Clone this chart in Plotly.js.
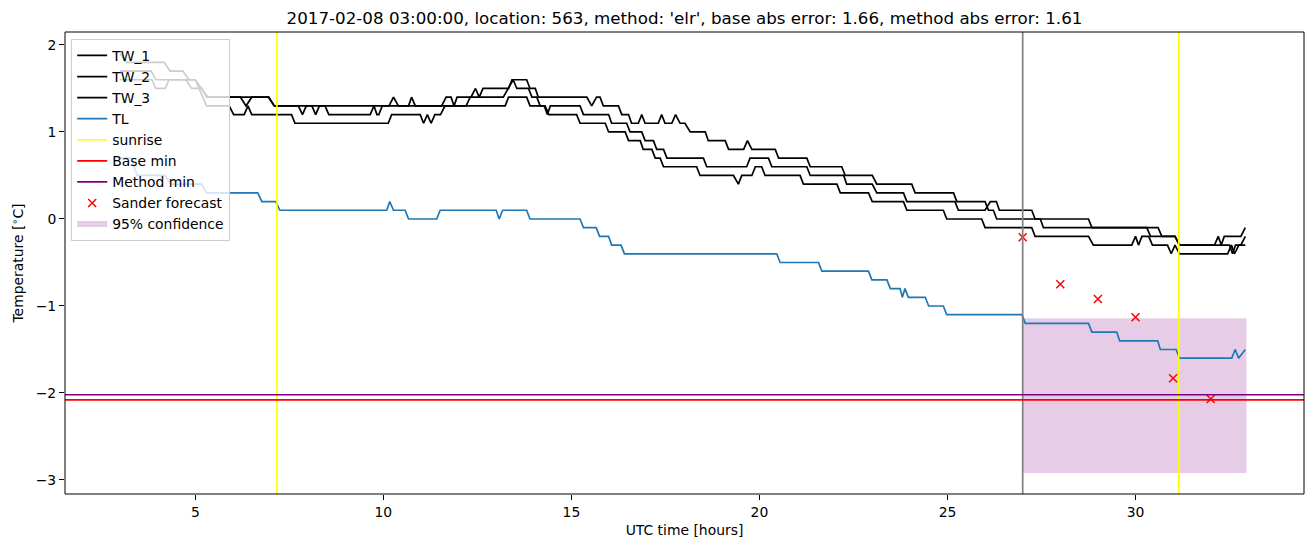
<!DOCTYPE html>
<html>
<head>
<meta charset="utf-8">
<script src="https://cdn.plot.ly/plotly-3.0.1.min.js"></script>
<style>html,body{margin:0;padding:0;background:#fff;}#chart{width:1313px;height:547px;}</style>
</head>
<body>
<div id="chart"></div>
<script>
// ---- data (hours UTC since 2017-02-08 00:00, temperature in °C) ----
const tw1 = [[3.0,1.9],[3.17,1.8],[4.17,1.8],[4.33,1.7],[4.67,1.7],[4.83,1.6],[5.0,1.6],[5.17,1.5],[5.33,1.4],[6.2,1.4],[6.35,1.3],[6.5,1.4],[6.95,1.4],[7.1,1.3],[10.15,1.3],[10.27,1.4],[10.4,1.3],[10.67,1.3],[10.75,1.4],[10.85,1.3],[11.55,1.3],[11.67,1.4],[11.8,1.4],[11.88,1.3],[11.96,1.4],[12.33,1.4],[12.45,1.5],[12.55,1.4],[12.65,1.5],[13.33,1.5],[13.42,1.6],[13.81,1.6],[13.9,1.5],[14.04,1.5],[14.12,1.4],[15.41,1.4],[15.54,1.3],[15.67,1.4],[15.76,1.4],[15.85,1.3],[16.25,1.3],[16.34,1.2],[16.52,1.2],[16.6,1.1],[16.78,1.1],[16.87,1.2],[16.96,1.1],[17.31,1.1],[17.4,1.2],[17.49,1.1],[17.67,1.1],[17.77,1.2],[17.89,1.1],[18.02,1.1],[18.16,1.0],[18.56,1.0],[18.64,0.9],[19.09,0.9],[19.18,0.8],[19.58,0.8],[19.68,0.9],[19.8,0.8],[20.42,0.8],[20.51,0.7],[21.26,0.7],[21.35,0.6],[22.19,0.6],[22.28,0.5],[23.0,0.5],[23.12,0.4],[24.05,0.4],[24.14,0.3],[25.16,0.3],[25.25,0.2],[26.0,0.2],[26.09,0.1],[26.22,0.1],[26.31,0.0],[27.47,0.0],[27.55,-0.1],[30.6,-0.1],[30.7,-0.2],[31.05,-0.2],[31.17,-0.3],[32.1,-0.3],[32.2,-0.2],[32.28,-0.3],[32.36,-0.2],[32.8,-0.2],[32.92,-0.1]];
const tw2 = [[3.0,1.7],[3.83,1.7],[3.95,1.6],[4.75,1.6],[4.9,1.5],[5.17,1.5],[5.3,1.4],[6.95,1.4],[7.1,1.3],[7.74,1.3],[7.85,1.2],[7.95,1.3],[8.1,1.3],[8.2,1.2],[8.3,1.3],[8.45,1.3],[8.55,1.2],[9.65,1.2],[9.75,1.3],[9.83,1.2],[9.88,1.2],[9.97,1.3],[12.2,1.3],[12.31,1.4],[13.19,1.4],[13.33,1.5],[13.45,1.6],[13.55,1.5],[13.86,1.5],[13.95,1.4],[14.08,1.4],[14.17,1.3],[14.28,1.3],[14.36,1.2],[14.44,1.3],[15.23,1.3],[15.32,1.2],[15.99,1.2],[16.07,1.1],[16.47,1.1],[16.56,1.0],[16.87,1.0],[16.96,0.9],[17.18,0.9],[17.27,0.8],[17.45,0.8],[17.54,0.7],[18.51,0.7],[18.6,0.6],[19.66,0.6],[19.75,0.7],[20.24,0.7],[20.33,0.6],[21.26,0.6],[21.35,0.5],[22.24,0.5],[22.32,0.4],[23.0,0.4],[23.12,0.3],[23.83,0.3],[23.92,0.2],[25.2,0.2],[25.29,0.1],[26.0,0.1],[26.14,0.2],[26.3,0.2],[26.38,0.1],[27.24,0.1],[27.33,0.0],[28.75,0.0],[28.84,-0.1],[30.3,-0.1],[30.4,-0.2],[31.05,-0.2],[31.17,-0.3],[32.5,-0.3],[32.58,-0.4],[32.66,-0.3],[32.8,-0.3],[32.92,-0.2]];
const tw3 = [[3.0,1.6],[3.85,1.6],[3.95,1.5],[4.2,1.5],[4.3,1.6],[5.0,1.6],[5.1,1.5],[5.2,1.4],[5.3,1.3],[5.9,1.3],[6.02,1.2],[6.3,1.2],[6.4,1.3],[6.5,1.2],[7.56,1.2],[7.65,1.1],[10.13,1.1],[10.22,1.2],[10.98,1.2],[11.07,1.1],[11.17,1.2],[11.27,1.1],[11.37,1.2],[11.52,1.2],[11.64,1.3],[13.24,1.3],[13.33,1.4],[13.81,1.4],[13.9,1.3],[14.3,1.3],[14.4,1.2],[15.14,1.2],[15.23,1.1],[15.9,1.1],[15.99,1.0],[16.43,1.0],[16.52,0.9],[16.83,0.9],[16.91,0.8],[17.14,0.8],[17.23,0.7],[17.36,0.7],[17.45,0.6],[18.33,0.6],[18.42,0.5],[19.31,0.5],[19.44,0.4],[19.53,0.5],[19.8,0.5],[19.89,0.6],[20.06,0.6],[20.15,0.5],[21.08,0.5],[21.17,0.4],[22.06,0.4],[22.15,0.3],[22.9,0.3],[23.0,0.2],[23.83,0.2],[23.92,0.1],[24.89,0.1],[24.98,0.0],[25.91,0.0],[26.0,-0.1],[27.24,-0.1],[27.33,-0.2],[28.75,-0.2],[28.88,-0.3],[29.9,-0.3],[30.0,-0.2],[30.08,-0.3],[30.17,-0.2],[30.35,-0.2],[30.45,-0.3],[30.85,-0.3],[30.95,-0.4],[31.05,-0.3],[31.17,-0.4],[32.45,-0.4],[32.55,-0.3],[32.63,-0.4],[32.75,-0.3],[32.92,-0.3]];
const tl = [[3.0,0.7],[3.3,0.7],[3.45,0.5],[4.2,0.5],[4.35,0.4],[5.17,0.4],[5.3,0.3],[6.66,0.3],[6.77,0.2],[7.14,0.2],[7.25,0.1],[10.09,0.1],[10.17,0.2],[10.27,0.1],[10.58,0.1],[10.67,0.0],[11.42,0.0],[11.51,0.1],[13.0,0.1],[13.08,0.0],[13.17,0.1],[13.81,0.1],[13.9,0.0],[15.23,0.0],[15.32,-0.1],[15.66,-0.1],[15.75,-0.2],[15.99,-0.2],[16.07,-0.3],[16.32,-0.3],[16.41,-0.4],[20.46,-0.4],[20.55,-0.5],[21.57,-0.5],[21.66,-0.6],[22.9,-0.6],[22.99,-0.7],[23.39,-0.7],[23.48,-0.8],[23.74,-0.8],[23.8,-0.9],[23.87,-0.8],[23.96,-0.9],[24.41,-0.9],[24.5,-1.0],[24.89,-1.0],[24.98,-1.1],[26.98,-1.1],[27.07,-1.2],[28.75,-1.2],[28.84,-1.3],[29.5,-1.3],[29.58,-1.4],[30.59,-1.4],[30.66,-1.5],[31.08,-1.5],[31.17,-1.6],[32.56,-1.6],[32.65,-1.5],[32.74,-1.6],[32.92,-1.5]];

const sunriseHours = [7.17, 31.15];
const forecastStart = 27.0;
const baseMin = -2.08;
const methodMin = -2.02;
const forecastHours = [27, 28, 29, 30, 31, 32];
const forecastTemps = [-0.21, -0.75, -0.92, -1.13, -1.83, -2.07];
const confHours = [27.0, 32.95];
const confLow = -2.92;
const confHigh = -1.14;

const xTicks = [5, 10, 15, 20, 25, 30];
const yTicks = [-3, -2, -1, 0, 1, 2];
const yTickText = ['\u22123', '\u22122', '\u22121', '0', '1', '2'];

const titleText = "2017-02-08 03:00:00, location: 563, method: 'elr', base abs error: 1.66, method abs error: 1.61";

// ---- traces ----
const F = 'DejaVu Sans, sans-serif';
const FS = 13.9;
function series(pairs, name, color, grp) {
  return {x: pairs.map(p => p[0]), y: pairs.map(p => p[1]), mode: 'lines', name: name,
    line: {color: color, width: 1.7}, legendgroup: grp, type: 'scatter'};
}
const traces = [
  series(tw1, 'TW_1', 'black', 'g1'),
  series(tw2, 'TW_2', 'black', 'g2'),
  series(tw3, 'TW_3', 'black', 'g3'),
  series(tl, 'TL', '#1f77b4', 'g4'),
  {x: [sunriseHours[0], sunriseHours[0], null, sunriseHours[1], sunriseHours[1]], y: [0, 1, null, 0, 1],
   xaxis: 'x', yaxis: 'y2', mode: 'lines', name: 'sunrise', line: {color: '#ffff00', width: 1.7}, legendgroup: 'g5'},
  {x: [0, 1], y: [baseMin, baseMin], xaxis: 'x2', yaxis: 'y', mode: 'lines', name: 'Base min',
   line: {color: '#ff0000', width: 1.7}, legendgroup: 'g6'},
  {x: [0, 1], y: [methodMin, methodMin], xaxis: 'x2', yaxis: 'y', mode: 'lines', name: 'Method min',
   line: {color: '#800080', width: 1.7}, legendgroup: 'g7'},
  {x: forecastHours, y: forecastTemps, mode: 'markers', name: 'Sander forecast', legendgroup: 'g8',
   marker: {symbol: 'x-thin', size: 8, color: '#ff0000', line: {color: '#ff0000', width: 1.5}}},
  {x: [confHours[0], confHours[1], confHours[1], confHours[0], confHours[0]],
   y: [confHigh, confHigh, confLow, confLow, confHigh], mode: 'none', fill: 'toself',
   fillcolor: 'rgba(128,0,128,0.2)', name: '95% confidence', legendgroup: 'g9', zorder: -1},
  {x: [forecastStart, forecastStart], y: [0, 1], xaxis: 'x', yaxis: 'y2', mode: 'lines',
   line: {color: '#808080', width: 1.7}, showlegend: false, hoverinfo: 'skip'}
];

const axisCommon = {showline: false, ticks: 'outside',
  ticklen: 5, tickwidth: 1, tickcolor: 'black', showgrid: false, zeroline: false,
  tickfont: {family: F, size: FS, color: 'black'}};

const layout = {
  width: 1313, height: 547,
  margin: {l: 65, r: 9, t: 32, b: 53},
  paper_bgcolor: 'white', plot_bgcolor: 'white',
  font: {family: F, color: 'black'},
  title: {text: titleText, font: {family: F, size: 16.7, color: 'black'}, x: 0.5, xref: 'paper',
          y: 1 - 18 / 547, yref: 'container', yanchor: 'middle'},
  xaxis: Object.assign({}, axisCommon, {range: [1.535, 34.48], tickmode: 'array', tickvals: xTicks,
          title: {text: 'UTC time [hours]', font: {family: F, size: FS, color: 'black'}, standoff: 6}}),
  yaxis: Object.assign({}, axisCommon, {range: [-3.161, 2.149], tickmode: 'array', tickvals: yTicks,
          ticktext: yTickText,
          title: {text: 'Temperature [<sup>\u2218</sup>C]', font: {family: F, size: FS, color: 'black'}, standoff: 8}}),
  xaxis2: {overlaying: 'x', range: [0, 1], visible: false, fixedrange: true},
  yaxis2: {overlaying: 'y', range: [0, 1], visible: false, fixedrange: true},
  shapes: [{type: 'rect', xref: 'paper', yref: 'paper', x0: 0, x1: 1, y0: 0, y1: 1,
            line: {color: 'black', width: 1}, fillcolor: 'rgba(0,0,0,0)', layer: 'above'}],
  showlegend: true,
  legend: {x: 0.005, y: 0.985, xanchor: 'left', yanchor: 'top', bgcolor: 'rgba(255,255,255,0.8)',
    bordercolor: '#cccccc', borderwidth: 1, font: {family: F, size: FS, color: 'black'},
    traceorder: 'grouped', tracegroupgap: 0, itemwidth: 30}
};

Plotly.newPlot('chart', traces, layout, {staticPlot: true, displayModeBar: false});
</script>
</body>
</html>
